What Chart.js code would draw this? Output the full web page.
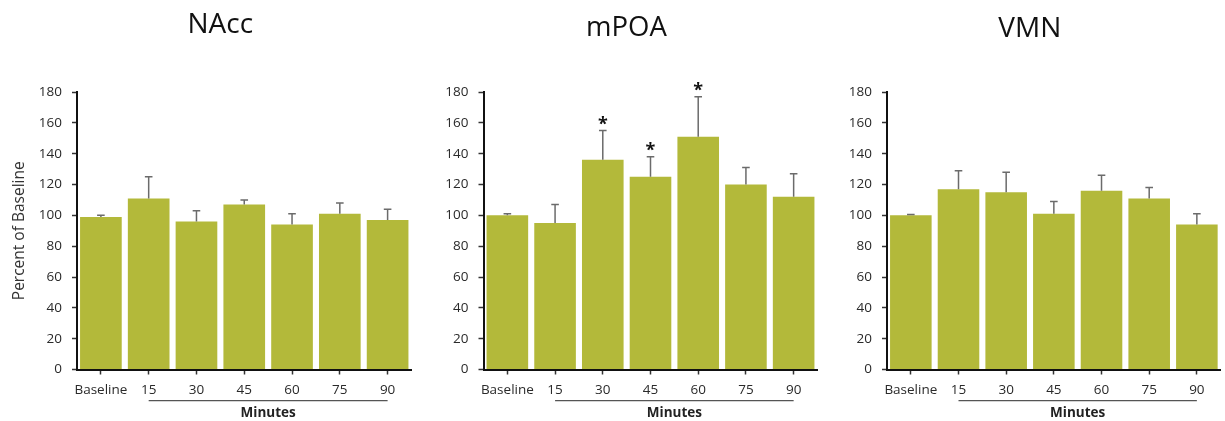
<!DOCTYPE html>
<html>
<head>
<meta charset="utf-8">
<script src="https://cdn.jsdelivr.net/npm/chart.js@4.4.1/dist/chart.umd.min.js"></script>
<style>
  html, body { margin: 0; padding: 0; background: #fff; }
  #wrap { position: relative; width: 1225px; height: 421px; overflow: hidden; }
  canvas { position: absolute; top: 0; }
</style>
</head>
<body>
<div id="wrap">
  <canvas id="c1" width="414" height="421" style="left:0px"></canvas>
  <canvas id="c2" width="406" height="421" style="left:414px"></canvas>
  <canvas id="c3" width="405" height="421" style="left:820px"></canvas>
</div>
<script>
// ---- data ----
const categories = ['Baseline', '15', '30', '45', '60', '75', '90'];
const yTickValues = [0, 20, 40, 60, 80, 100, 120, 140, 160, 180];
const panelTitles = ['NAcc', 'mPOA', 'VMN'];

const naccValues = [99, 111, 96, 107, 94, 101, 97];
const naccErrors = [1, 14, 7, 3, 7, 7, 7];
const naccSig = [false, false, false, false, false, false, false];

const mpoaValues = [100, 95, 136, 125, 151, 120, 112];
const mpoaErrors = [1, 12, 19, 13, 26, 11, 15];
const mpoaSig = [false, false, true, true, true, false, false];

const vmnValues = [100, 117, 115, 101, 116, 111, 94];
const vmnErrors = [0.5, 12, 13, 8, 10, 7, 7];
const vmnSig = [false, false, false, false, false, false, false];

const FONT = '"Open Sans", Lato, "DejaVu Sans", sans-serif';
const BAR_COLOR = '#b3b93a';

const overlayPlugin = {
  id: 'overlay',
  afterDatasetsDraw(chart, args, opts) {
    const ctx = chart.ctx;
    const meta = chart.getDatasetMeta(0);
    const ys = chart.scales.y;
    const ds = chart.data.datasets[0];
    ctx.save();
    ctx.strokeStyle = '#6b6b6b';
    ctx.lineWidth = 1.5;
    meta.data.forEach((bar, i) => {
      const v = ds.data[i];
      const e = opts.errors[i];
      const x = bar.x;
      const y0 = ys.getPixelForValue(v);
      const y1 = ys.getPixelForValue(v + e);
      ctx.beginPath();
      ctx.moveTo(x, y0);
      ctx.lineTo(x, y1);
      ctx.moveTo(x - 3.8, y1);
      ctx.lineTo(x + 3.8, y1);
      ctx.stroke();
      if (opts.sig[i]) {
        ctx.fillStyle = '#111';
        ctx.font = 'bold 18px ' + FONT;
        ctx.textAlign = 'center';
        ctx.textBaseline = 'alphabetic';
        ctx.fillText('*', x, y1 - 1);
      }
    });
    ctx.restore();
  },
  afterDraw(chart, args, opts) {
    const ctx = chart.ctx;
    const meta = chart.getDatasetMeta(0);
    const ca = chart.chartArea;
    ctx.save();
    ctx.fillStyle = '#111';
    ctx.font = opts.titleSize + 'px ' + FONT;
    ctx.textAlign = 'center';
    ctx.textBaseline = 'alphabetic';
    ctx.fillText(opts.title, (ca.left + ca.right) / 2 - 24, opts.titleBase);
    const xa = meta.data[1].x, xb = meta.data[6].x;
    ctx.strokeStyle = '#555';
    ctx.lineWidth = 1.2;
    ctx.beginPath();
    ctx.moveTo(xa, 400.7);
    ctx.lineTo(xb, 400.7);
    ctx.stroke();
    ctx.fillStyle = '#222';
    ctx.font = 'bold 13.5px ' + FONT;
    ctx.fillText('Minutes', (xa + xb) / 2, 417.3);
    ctx.restore();
  }
};

function makeChart(id, values, errors, sig, title, titleSize, titleBase, yWidth, rightPad, showYTitle) {
  return new Chart(document.getElementById(id), {
    type: 'bar',
    data: {
      labels: categories,
      datasets: [{
        data: values,
        backgroundColor: BAR_COLOR,
        borderWidth: 0,
        barPercentage: 0.872,
        categoryPercentage: 1.0
      }]
    },
    options: {
      responsive: false,
      animation: false,
      events: [],
      layout: { padding: { left: 0, right: rightPad, top: 92, bottom: 0 } },
      plugins: {
        legend: { display: false },
        tooltip: { enabled: false },
        title: { display: false },
        overlay: { errors: errors, sig: sig, title: title, titleSize: titleSize, titleBase: titleBase }
      },
      scales: {
        x: {
          type: 'category',
          offset: true,
          grid: { display: true, offset: false, drawOnChartArea: false, drawTicks: true, tickLength: 5, tickColor: '#333', tickWidth: 1.5 },
          border: { display: true, color: '#111', width: 2 },
          ticks: { color: '#2a2a2a', font: { family: FONT, size: 13.5 }, padding: 8, maxRotation: 0, autoSkip: false },
          afterFit: (s) => { s.height = 51.5; }
        },
        y: {
          min: 0, max: 180,
          afterBuildTicks: (s) => { s.ticks = yTickValues.map(v => ({ value: v })); },
          grid: { display: true, drawOnChartArea: false, drawTicks: true, tickLength: 5, tickColor: '#333', tickWidth: 1.5 },
          border: { display: true, color: '#111', width: 2 },
          ticks: { color: '#2a2a2a', font: { family: FONT, size: 13.5 }, padding: 10 },
          title: { display: showYTitle, text: 'Percent of Baseline', color: '#333', font: { family: FONT, size: 15.5 }, padding: { top: 10, bottom: 0 } },
          afterFit: (s) => { s.width = yWidth; }
        }
      }
    },
    plugins: [overlayPlugin]
  });
}

makeChart('c1', naccValues, naccErrors, naccSig, panelTitles[0], 28, 33.3, 77, 2.5, true);
makeChart('c2', mpoaValues, mpoaErrors, mpoaSig, panelTitles[1], 27.5, 36.2, 69.5, 2.5, false);
makeChart('c3', vmnValues, vmnErrors, vmnSig, panelTitles[2], 28, 37.3, 67, 4.3, false);
</script>
</body>
</html>
